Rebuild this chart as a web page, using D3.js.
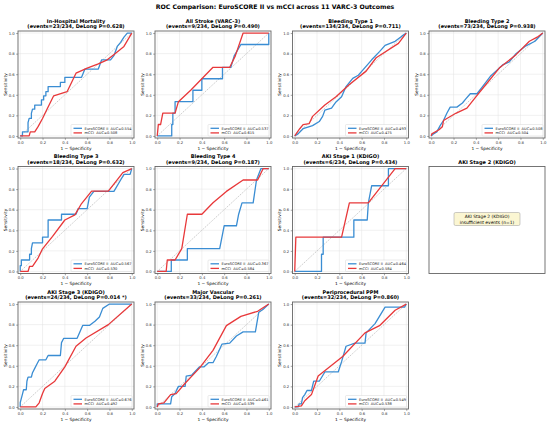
<!DOCTYPE html>
<html>
<head>
<meta charset="utf-8">
<script src="https://cdn.jsdelivr.net/npm/d3@7"></script>
<style>
  body { margin: 0; background: #fff; }
  text { font-family: "DejaVu Sans", sans-serif; }
</style>
</head>
<body>
<svg id="chart" width="550" height="425"></svg>
<script>
// outcomes, one per panel (AKI Stage 2 had too few events)
var outcomes = ["In-Hospital Mortality", "All Stroke (VARC-3)", "Bleeding Type 1", "Bleeding Type 2",
    "Bleeding Type 3", "Bleeding Type 4", "AKI Stage 1 (KDIGO)", "AKI Stage 2 (KDIGO)",
    "AKI Stage 3 (KDIGO)", "Major Vascular", "Periprocedural PPM"];
var eventCounts = ["23/234", "9/234", "134/234", "73/234", "18/234", "9/234", "6/234", null, "24/234", "33/234", "32/234"];
var delongP = ["0.628", "0.490", "0.711", "0.938", "0.632", "0.187", "0.434", null, "0.014 *", "0.261", "0.860"];
var aucEuro = [0.554, 0.537, 0.493, 0.508, 0.567, 0.367, 0.464, null, 0.676, 0.461, 0.549];
var aucMcci = [0.508, 0.615, 0.475, 0.504, 0.530, 0.584, 0.584, null, 0.492, 0.539, 0.538];
var tickValues = [0, 0.2, 0.4, 0.6, 0.8, 1.0];

// ROC points [1 - specificity, sensitivity], EuroSCORE II
var euroCurves = [
    [[0,0],[0.02,0],[0.02,0.04],[0.07,0.04],[0.07,0.13],[0.08,0.17],[0.1,0.17],[0.1,0.22],[0.11,0.26],[0.13,0.26],[0.13,0.30],[0.19,0.30],[0.19,0.35],[0.21,0.35],[0.21,0.39],[0.23,0.39],[0.23,0.43],[0.25,0.43],[0.25,0.48],[0.36,0.48],[0.36,0.52],[0.40,0.52],[0.40,0.57],[0.55,0.57],[0.58,0.65],[0.70,0.65],[0.73,0.74],[0.81,0.74],[0.84,0.78],[0.87,0.87],[0.90,0.91],[0.93,0.96],[0.96,1],[1,1]],
    [[0,0],[0.13,0],[0.13,0.111],[0.14,0.111],[0.14,0.222],[0.16,0.222],[0.16,0.333],[0.32,0.333],[0.32,0.444],[0.40,0.444],[0.40,0.556],[0.585,0.556],[0.585,0.667],[0.66,0.667],[0.69,0.778],[0.75,0.889],[1,0.889],[1,1]],
    [[0,0],[0.03,0.02],[0.075,0.07],[0.16,0.1],[0.22,0.14],[0.25,0.19],[0.27,0.25],[0.33,0.27],[0.37,0.33],[0.42,0.38],[0.46,0.48],[0.52,0.56],[0.57,0.59],[0.61,0.64],[0.69,0.74],[0.76,0.82],[0.81,0.88],[0.9,0.92],[0.96,0.97],[1,1]],
    [[0,0],[0.02,0.02],[0.05,0.04],[0.08,0.1],[0.11,0.15],[0.14,0.22],[0.17,0.28],[0.23,0.28],[0.28,0.32],[0.31,0.36],[0.35,0.41],[0.41,0.41],[0.46,0.48],[0.53,0.58],[0.58,0.63],[0.64,0.69],[0.7,0.72],[0.76,0.8],[0.84,0.87],[0.93,0.92],[1,1]],
    [[0,0],[0,0.056],[0.01,0.056],[0.01,0.111],[0.084,0.111],[0.084,0.167],[0.1,0.167],[0.1,0.222],[0.11,0.278],[0.2,0.278],[0.2,0.333],[0.25,0.333],[0.25,0.5],[0.37,0.5],[0.37,0.556],[0.5,0.556],[0.52,0.611],[0.6,0.611],[0.62,0.722],[0.66,0.778],[0.84,0.778],[0.9,0.889],[0.93,0.944],[0.985,0.944],[1,1]],
    [[0,0],[0.126,0],[0.126,0.111],[0.27,0.111],[0.27,0.222],[0.56,0.222],[0.6,0.444],[0.71,0.444],[0.73,0.556],[0.76,0.667],[0.86,0.667],[0.89,0.889],[0.93,1],[1,1]],
    [[0,0],[0.24,0],[0.24,0.167],[0.255,0.167],[0.255,0.333],[0.53,0.333],[0.53,0.5],[0.65,0.5],[0.66,0.667],[0.69,0.833],[0.84,0.833],[0.84,1],[1,1]],
    null,
    [[0,0],[0,0.042],[0.01,0.083],[0.02,0.125],[0.03,0.167],[0.054,0.167],[0.06,0.25],[0.07,0.29],[0.1,0.29],[0.11,0.333],[0.13,0.375],[0.15,0.417],[0.17,0.458],[0.23,0.458],[0.25,0.5],[0.36,0.5],[0.37,0.625],[0.39,0.667],[0.51,0.667],[0.56,0.792],[0.62,0.792],[0.67,0.833],[0.71,0.875],[0.74,0.958],[0.8,1],[1,1]],
    [[0,0],[0,0.03],[0.12,0.03],[0.13,0.1],[0.16,0.13],[0.19,0.2],[0.25,0.2],[0.26,0.3],[0.31,0.31],[0.38,0.39],[0.42,0.39],[0.46,0.43],[0.5,0.43],[0.53,0.49],[0.58,0.61],[0.65,0.62],[0.71,0.69],[0.77,0.73],[0.88,0.73],[0.91,0.92],[0.95,0.95],[1,1]],
    [[0,0],[0.03,0],[0.04,0.03],[0.06,0.03],[0.07,0.09],[0.09,0.12],[0.11,0.16],[0.15,0.16],[0.17,0.25],[0.22,0.25],[0.27,0.34],[0.39,0.34],[0.42,0.44],[0.46,0.59],[0.54,0.62],[0.63,0.62],[0.64,0.72],[0.72,0.81],[0.81,0.97],[0.985,0.97],[1,1]]
];

// ROC points, mCCI
var mcciCurves = [
    [[0,0],[0.08,0],[0.09,0.04],[0.13,0.04],[0.16,0.09],[0.2,0.17],[0.24,0.26],[0.3,0.39],[0.42,0.43],[0.5,0.61],[0.6,0.66],[0.7,0.7],[0.78,0.74],[0.85,0.8],[0.93,0.87],[1,1]],
    [[0,0],[0.01,0.111],[0.03,0.111],[0.05,0.222],[0.16,0.222],[0.19,0.333],[0.3,0.444],[0.4,0.556],[0.5,0.667],[0.65,0.667],[0.7,0.778],[0.77,1],[1,1]],
    [[0,0],[0.045,0.07],[0.075,0.11],[0.13,0.12],[0.16,0.19],[0.27,0.3],[0.37,0.38],[0.49,0.5],[0.64,0.63],[0.73,0.76],[0.93,0.9],[1,1]],
    [[0,0],[0.005,0.02],[0.07,0.06],[0.1,0.09],[0.11,0.15],[0.14,0.17],[0.22,0.22],[0.32,0.27],[0.4,0.38],[0.49,0.5],[0.61,0.66],[0.76,0.79],[0.88,0.92],[0.95,0.96],[1,1]],
    [[0,0],[0.07,0],[0.084,0.05],[0.11,0.05],[0.16,0.13],[0.2,0.22],[0.29,0.34],[0.4,0.5],[0.49,0.55],[0.55,0.66],[0.64,0.78],[0.79,0.78],[0.92,0.96],[1,1]],
    [[0,0],[0.08,0],[0.09,0.111],[0.16,0.111],[0.22,0.222],[0.27,0.556],[0.4,0.556],[0.5,0.667],[0.62,0.778],[0.77,0.889],[0.9,0.889],[0.95,1],[1,1]],
    [[0,0],[0.01,0.333],[0.42,0.333],[0.49,0.667],[0.66,0.667],[0.9,1],[1,1]],
    null,
    [[0,0],[0.14,0],[0.17,0.04],[0.2,0.13],[0.22,0.18],[0.31,0.25],[0.4,0.39],[0.5,0.59],[0.59,0.67],[0.79,0.8],[1,1]],
    [[0,0],[0.01,0.03],[0.06,0.04],[0.12,0.12],[0.17,0.13],[0.25,0.23],[0.38,0.38],[0.5,0.55],[0.62,0.79],[0.75,0.88],[0.9,0.93],[1,1]],
    [[0,0],[0.06,0.01],[0.09,0.06],[0.15,0.12],[0.21,0.3],[0.43,0.49],[0.63,0.72],[0.76,0.79],[0.9,0.94],[1,1]]
];

var blue = "#3a8dd3", red = "#e8383a";
var colLeft = [18, 155, 292.5, 429], rowTop = [31, 166.5, 302];
var pw = 116, ph = 107;
var fmt = d3.format(".3f");

var svg = d3.select("#chart");

svg.append("text")
    .attr("x", 275).attr("y", 8.5)
    .attr("text-anchor", "middle")
    .style("font-size", "6.2px").style("font-weight", "bold")
    .text("ROC Comparison: EuroSCORE II vs mCCI across 11 VARC-3 Outcomes");

var x = d3.scaleLinear().domain([-0.02, 1.02]).range([0, pw]);
var y = d3.scaleLinear().domain([-0.02, 1.02]).range([ph, 0]);
var line = d3.line().x(function(d) { return x(d[0]); }).y(function(d) { return y(d[1]); });

outcomes.forEach(function(name, i) {
    var g = svg.append("g")
        .attr("transform", "translate(" + colLeft[i % 4] + "," + rowTop[Math.floor(i / 4)] + ")");

    if (euroCurves[i] == null) {
        // not enough events to draw a curve
        g.append("text").attr("x", pw / 2).attr("y", -3)
            .attr("text-anchor", "middle")
            .style("font-size", "5px").style("font-weight", "bold")
            .text(name);
        g.append("rect").attr("width", pw).attr("height", ph)
            .attr("fill", "none").attr("stroke", "#666").attr("stroke-width", 0.9);
        g.append("rect").attr("x", pw / 2 - 33).attr("y", ph / 2 - 7.5)
            .attr("width", 66).attr("height", 13).attr("rx", 1.5)
            .attr("fill", "#fbf6d2").attr("stroke", "#999").attr("stroke-width", 0.5);
        g.append("text").attr("x", pw / 2).attr("y", ph / 2 - 2)
            .attr("text-anchor", "middle").style("font-size", "4.4px")
            .text(name);
        g.append("text").attr("x", pw / 2).attr("y", ph / 2 + 3.5)
            .attr("text-anchor", "middle").style("font-size", "4.4px")
            .text("insufficient events (n=1)");
        return;
    }

    g.append("text").attr("x", pw / 2).attr("y", -8.5)
        .attr("text-anchor", "middle")
        .style("font-size", "5px").style("font-weight", "bold")
        .text(name);
    g.append("text").attr("x", pw / 2).attr("y", -3)
        .attr("text-anchor", "middle")
        .style("font-size", "5px").style("font-weight", "bold")
        .text("(events=" + eventCounts[i] + ", DeLong P=" + delongP[i] + ")");

    // grid
    g.append("g").selectAll("line").data(tickValues).enter().append("line")
        .attr("x1", function(d) { return x(d); }).attr("x2", function(d) { return x(d); })
        .attr("y1", 0).attr("y2", ph)
        .attr("stroke", "#e3e3e3").attr("stroke-width", 0.5);
    g.append("g").selectAll("line").data(tickValues).enter().append("line")
        .attr("y1", function(d) { return y(d); }).attr("y2", function(d) { return y(d); })
        .attr("x1", 0).attr("x2", pw)
        .attr("stroke", "#e3e3e3").attr("stroke-width", 0.5);

    // axes
    var xa = g.append("g").attr("transform", "translate(0," + ph + ")")
        .call(d3.axisBottom(x).tickValues(tickValues).tickFormat(d3.format(".1f")).tickSize(1.8).tickPadding(1.5));
    var ya = g.append("g")
        .call(d3.axisLeft(y).tickValues(tickValues).tickFormat(d3.format(".1f")).tickSize(1.8).tickPadding(1.5));
    [xa, ya].forEach(function(a) {
        a.select(".domain").remove();
        a.selectAll("text").style("font-size", "3.8px").attr("fill", "#333")
            .style("font-family", "DejaVu Sans");
        a.selectAll("line").attr("stroke", "#444").attr("stroke-width", 0.5);
    });

    g.append("text").attr("x", pw / 2).attr("y", ph + 11.5)
        .attr("text-anchor", "middle").style("font-size", "4.3px")
        .text("1 \u2212 Specificity");
    g.append("text")
        .attr("transform", "translate(-11.5," + (ph / 2) + ") rotate(-90)")
        .attr("text-anchor", "middle").style("font-size", "4.3px")
        .text("Sensitivity");

    // chance line
    g.append("line")
        .attr("x1", x(0)).attr("y1", y(0)).attr("x2", x(1)).attr("y2", y(1))
        .attr("stroke", "#999").attr("stroke-width", 0.5).attr("stroke-dasharray", "1.5,1");

    g.append("path").datum(euroCurves[i]).attr("d", line)
        .attr("fill", "none").attr("stroke", blue).attr("stroke-width", 1.3)
        .attr("stroke-linejoin", "round");
    g.append("path").datum(mcciCurves[i]).attr("d", line)
        .attr("fill", "none").attr("stroke", red).attr("stroke-width", 1.3)
        .attr("stroke-linejoin", "round");

    g.append("rect").attr("width", pw).attr("height", ph)
        .attr("fill", "none").attr("stroke", "#666").attr("stroke-width", 0.9);

    // legend
    var lg = g.append("g").attr("transform", "translate(" + (pw - 63) + "," + (ph - 13.5) + ")");
    lg.append("rect").attr("width", 61).attr("height", 11.5).attr("rx", 1)
        .attr("fill", "#fff").attr("fill-opacity", 0.85)
        .attr("stroke", "#ccc").attr("stroke-width", 0.4);
    var items = [
        { c: blue, t: "EuroSCORE II  AUC=" + fmt(aucEuro[i]) },
        { c: red, t: "mCCI  AUC=" + fmt(aucMcci[i]) }
    ];
    items.forEach(function(it, k) {
        var yy = 3.8 + k * 4.6;
        lg.append("line").attr("x1", 2.5).attr("x2", 11).attr("y1", yy).attr("y2", yy)
            .attr("stroke", it.c).attr("stroke-width", 1.3);
        lg.append("text").attr("x", 13.5).attr("y", yy + 1.3)
            .attr("xml:space", "preserve").style("white-space", "pre")
            .style("font-size", "3.6px").attr("fill", "#222")
            .text(it.t);
    });
});
</script>
</body>
</html>
